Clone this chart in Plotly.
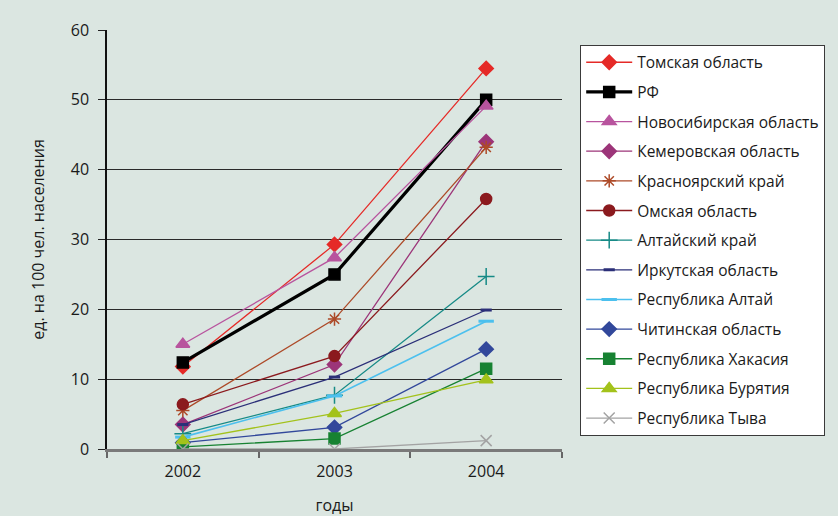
import plotly.graph_objects as go

years = ["2002", "2003", "2004"]

names = [
    "Томская область", "РФ", "Новосибирская область", "Кемеровская область",
    "Красноярский край", "Омская область", "Алтайский край", "Иркутская область",
    "Республика Алтай", "Читинская область", "Республика Хакасия",
    "Республика Бурятия", "Республика Тыва",
]

tomsk = [11.8, 29.3, 54.5]
rf = [12.4, 25.0, 50.0]
novosib = [15.0, 27.4, 49.1]
kemerovo = [3.5, 12.1, 44.0]
krasnoyarsk = [5.5, 18.6, 43.2]
omsk = [6.4, 13.3, 35.8]
altai_krai = [2.2, 7.7, 24.7]
irkutsk = [3.5, 10.3, 19.9]
resp_altai = [1.7, 7.6, 18.3]
chita = [0.9, 3.1, 14.3]
khakasia = [0.3, 1.5, 11.5]
buryatia = [1.2, 5.1, 9.9]
tyva = [0.0, 0.0, 1.2]

values = [tomsk, rf, novosib, kemerovo, krasnoyarsk, omsk, altai_krai, irkutsk,
          resp_altai, chita, khakasia, buryatia, tyva]

styles = [
    dict(color="#e52a27", width=1.3, symbol="diamond", size=11),
    dict(color="#000000", width=3.2, symbol="square", size=11),
    dict(color="#b8549e", width=1.3, symbol="triangle-up", size=12),
    dict(color="#9c3579", width=1.3, symbol="diamond", size=11),
    dict(color="#ad4a28", width=1.3, symbol="asterisk-open", size=11),
    dict(color="#8b1a1e", width=1.3, symbol="circle", size=11),
    dict(color="#168a86", width=1.3, symbol="cross-thin-open", size=12),
    dict(color="#2b2f78", width=1.3, symbol="line-ew-open", size=8),
    dict(color="#4cc0ee", width=1.6, symbol="line-ew-open", size=11),
    dict(color="#32489b", width=1.3, symbol="diamond", size=11),
    dict(color="#178232", width=1.3, symbol="square", size=11),
    dict(color="#a3c21b", width=1.3, symbol="triangle-up", size=12),
    dict(color="#a3a3a3", width=1.3, symbol="x-thin-open", size=11),
]

fig = go.Figure()
for i, (n, v, s) in enumerate(zip(names, values, styles)):
    mline = 3 if s["symbol"] == "line-ew-open" else 1.5
    fig.add_trace(go.Scatter(
        x=years, y=v, name=n, mode="lines+markers", legendgroup=f"g{i}",
        line=dict(color=s["color"], width=s["width"]),
        marker=dict(symbol=s["symbol"], size=s["size"], color=s["color"],
                    line=dict(color=s["color"], width=mline)),
    ))

bg = "#dbe6e1"
fig.update_layout(
    width=838, height=516,
    paper_bgcolor=bg, plot_bgcolor=bg,
    margin=dict(l=107, r=276, t=30, b=67),
    font=dict(family="Open Sans, Noto Sans, sans-serif", size=15, color="#1a1a1a"),
    showlegend=True,
    legend=dict(
        x=1.04, y=0.965, xanchor="left", yanchor="top",
        bgcolor="#ffffff", bordercolor="#3a3a3a", borderwidth=1,
        font=dict(size=15.5, color="#1a1a1a"), tracegroupgap=6.5,
        traceorder="grouped", itemwidth=46,
    ),
    xaxis=dict(
        type="category", range=[-0.5, 2.5], showgrid=False, tickson="boundaries",
        ticks="outside", ticklen=6, tickcolor="#666666", tickwidth=1.5,
        showline=True, linecolor="#7a7a7a", linewidth=2.5, automargin=False,
        tickfont=dict(size=16), zeroline=False, ticklabelstandoff=6,
        title=dict(text="годы", font=dict(size=16), standoff=22),
    ),
    yaxis=dict(
        range=[0, 60], dtick=10, showgrid=True, gridcolor="#2a2a2a", gridwidth=1.3,
        ticks="outside", ticklen=7, tickcolor="#222222", automargin=False,
        showline=True, linecolor="#111111", linewidth=1.5, zeroline=False,
        tickfont=dict(size=16), ticklabelstandoff=6,
        title=dict(text="ед. на 100 чел. населения", font=dict(size=16), standoff=22),
    ),
)

fig.write_html(
    "out.html",
    config={"displayModeBar": False},
    post_script="document.body.style.margin='0px';document.body.style.background='%s';" % bg,
)
